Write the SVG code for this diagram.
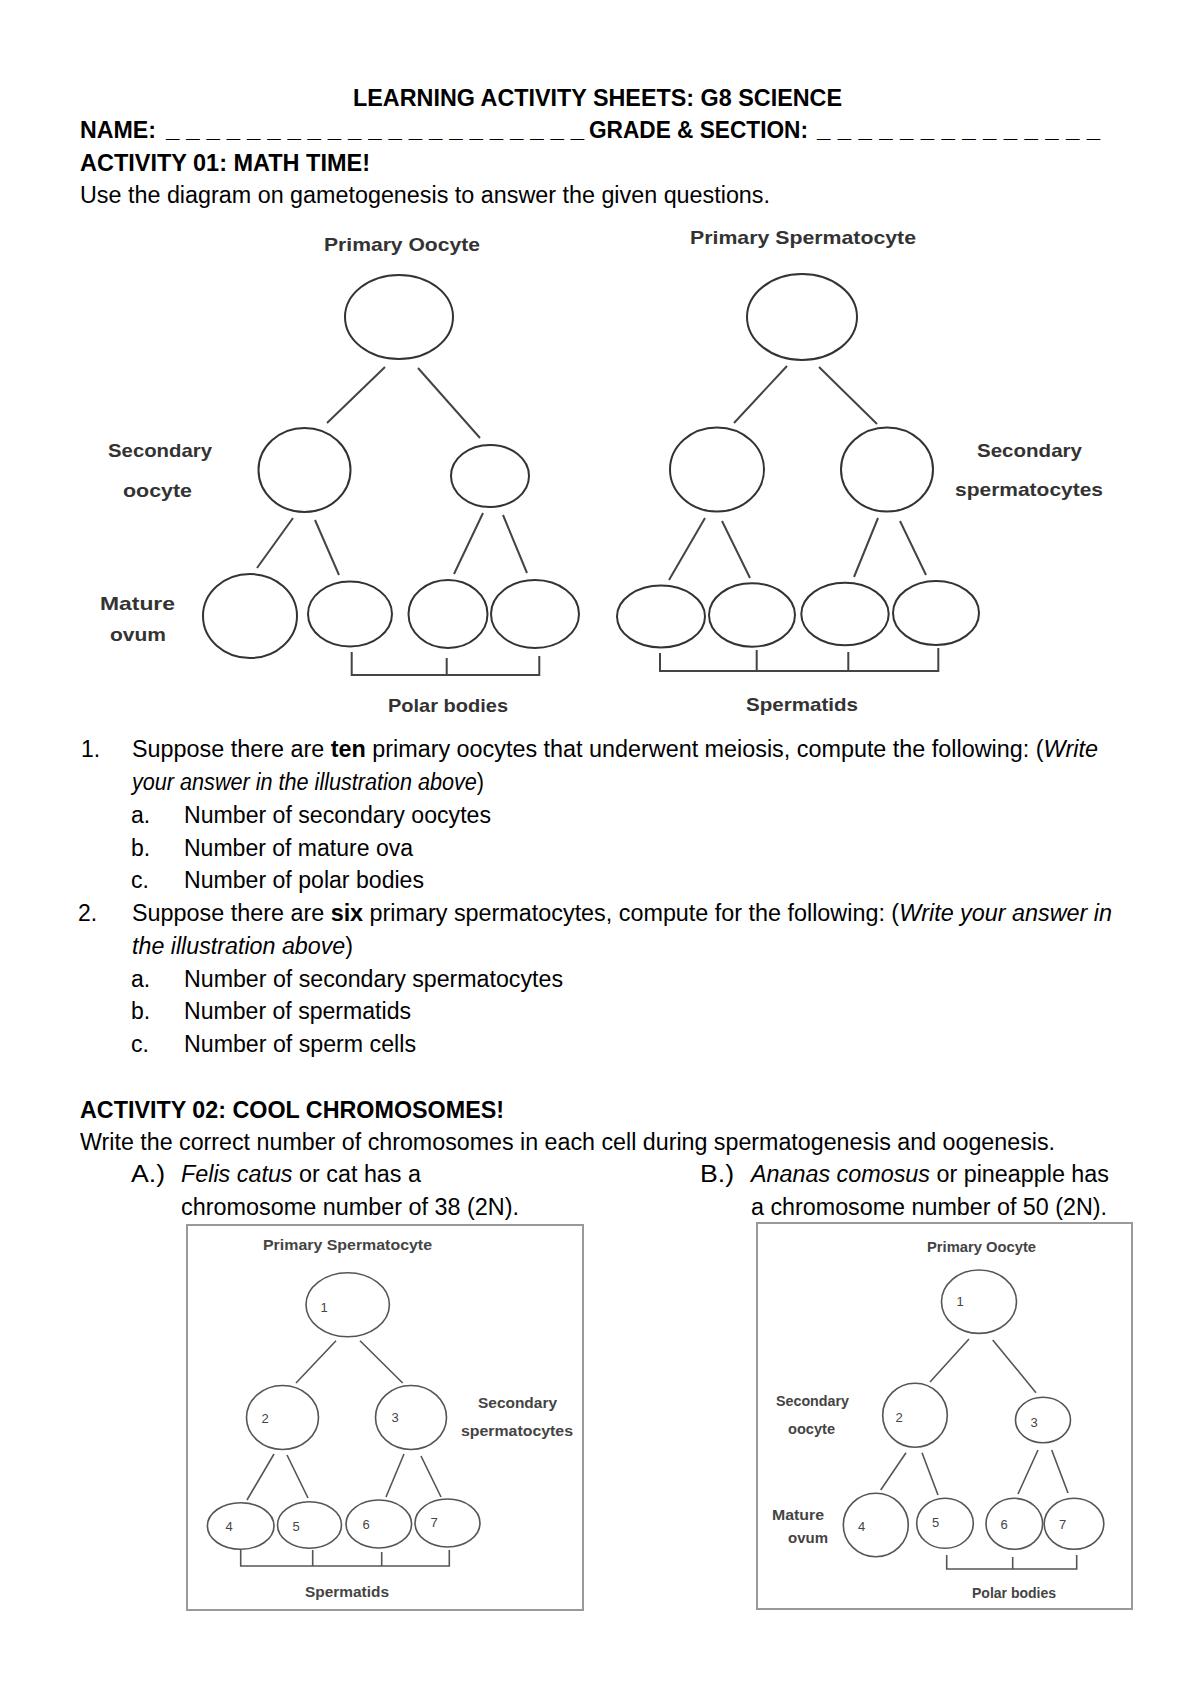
<svg xmlns="http://www.w3.org/2000/svg" width="1200" height="1696" viewBox="0 0 1200 1696">
<style>
.h{font-family:"Liberation Sans",Arial,sans-serif;font-weight:bold;font-size:23px;fill:#000}
.b{font-family:"Liberation Sans",Arial,sans-serif;font-size:23px;fill:#000}
.i{font-style:italic}
.bd{font-weight:bold}
.lbl{font-family:"Liberation Sans",Arial,sans-serif;font-weight:bold;font-size:19px;fill:#333}
.sl{font-family:"Liberation Sans",Arial,sans-serif;font-weight:bold;font-size:14px;fill:#444}
.num{font-family:"Liberation Sans",Arial,sans-serif;font-size:13px;fill:#444;text-anchor:middle}
.cell{fill:none;stroke:#333;stroke-width:2}
.cells{fill:none;stroke:#555;stroke-width:1.6}
.con{fill:none;stroke:#444;stroke-width:2}
.cons{fill:none;stroke:#555;stroke-width:1.6}
.box{fill:none;stroke:#999;stroke-width:2}
.u{font-family:"Liberation Sans",Arial,sans-serif;font-weight:bold;font-size:24px;fill:#000}
</style>
<rect width="1200" height="1696" fill="#fff"/>

<!-- Header -->
<g id="header">
<text class="h" x="353" y="106" textLength="489" lengthAdjust="spacingAndGlyphs">LEARNING ACTIVITY SHEETS: G8 SCIENCE</text>
<text class="h" x="80" y="138" textLength="76" lengthAdjust="spacingAndGlyphs">NAME:</text>
<text class="u" x="166" y="137" textLength="418" lengthAdjust="spacing">_____________________</text>
<text class="h" x="589" y="138" textLength="219" lengthAdjust="spacingAndGlyphs">GRADE &amp; SECTION:</text>
<text class="u" x="817" y="137" textLength="283" lengthAdjust="spacing">______________</text>
<text class="h" x="80" y="171" textLength="290" lengthAdjust="spacingAndGlyphs">ACTIVITY 01: MATH TIME!</text>
<text class="b" x="80" y="203" textLength="690" lengthAdjust="spacingAndGlyphs">Use the diagram on gametogenesis to answer the given questions.</text>
</g>

<!-- Top-left: oogenesis -->
<g id="oogenesis-labels">
<text class="lbl" x="324" y="251" textLength="156" lengthAdjust="spacingAndGlyphs">Primary Oocyte</text>
<text class="lbl" x="108" y="457" textLength="104" lengthAdjust="spacingAndGlyphs">Secondary</text>
<text class="lbl" x="123" y="497" textLength="69" lengthAdjust="spacingAndGlyphs">oocyte</text>
<text class="lbl" x="100" y="610" textLength="75" lengthAdjust="spacingAndGlyphs">Mature</text>
<text class="lbl" x="110" y="641" textLength="56" lengthAdjust="spacingAndGlyphs">ovum</text>
<text class="lbl" x="388" y="712" font-size="18" textLength="120" lengthAdjust="spacingAndGlyphs">Polar bodies</text>
</g>
<g id="oo-primary"><ellipse class="cell" cx="399" cy="317" rx="54" ry="42"/></g>
<g id="oo-secondary-1"><ellipse class="cell" cx="304.5" cy="470" rx="46" ry="42"/></g>
<g id="oo-secondary-2"><ellipse class="cell" cx="490" cy="476" rx="39" ry="31"/></g>
<g id="oo-ovum"><ellipse class="cell" cx="250" cy="616" rx="47" ry="42"/></g>
<g id="oo-polar-1"><ellipse class="cell" cx="350" cy="614" rx="42" ry="32.5"/></g>
<g id="oo-polar-2"><ellipse class="cell" cx="448" cy="614" rx="39.5" ry="34"/></g>
<g id="oo-polar-3"><ellipse class="cell" cx="535" cy="614" rx="44" ry="34"/></g>

<!-- Top-right: spermatogenesis -->
<g id="sp-labels">
<text class="lbl" x="690" y="244" textLength="226" lengthAdjust="spacingAndGlyphs">Primary Spermatocyte</text>
<text class="lbl" x="977" y="457" textLength="105" lengthAdjust="spacingAndGlyphs">Secondary</text>
<text class="lbl" x="955" y="496" textLength="148" lengthAdjust="spacingAndGlyphs">spermatocytes</text>
<text class="lbl" x="746" y="711" font-size="18" textLength="112" lengthAdjust="spacingAndGlyphs">Spermatids</text>
</g>
<g id="sp-primary"><ellipse class="cell" cx="802" cy="317" rx="55" ry="43"/></g>
<g id="sp-secondary-1"><ellipse class="cell" cx="717" cy="469.5" rx="47" ry="42"/></g>
<g id="sp-secondary-2"><ellipse class="cell" cx="887" cy="469.5" rx="46" ry="42"/></g>
<g id="sp-spermatid-1"><ellipse class="cell" cx="661" cy="616.5" rx="44" ry="31"/></g>
<g id="sp-spermatid-2"><ellipse class="cell" cx="752" cy="615" rx="43" ry="31.7"/></g>
<g id="sp-spermatid-3"><ellipse class="cell" cx="845" cy="614" rx="43.7" ry="31.2"/></g>
<g id="sp-spermatid-4"><ellipse class="cell" cx="936" cy="613" rx="43" ry="32"/></g>

<!-- Questions -->
<g id="questions">
<text class="b" x="81" y="757">1.</text>
<text class="b" x="132" y="757" textLength="966" lengthAdjust="spacingAndGlyphs">Suppose there are <tspan class="bd">ten</tspan> primary oocytes that underwent meiosis, compute the following: (<tspan class="i">Write</tspan></text>
<text class="b" x="132" y="790" textLength="352" lengthAdjust="spacingAndGlyphs"><tspan class="i">your answer in the illustration above</tspan>)</text>
<text class="b" x="131" y="823">a.</text>
<text class="b" x="184" y="823" textLength="307" lengthAdjust="spacingAndGlyphs">Number of secondary oocytes</text>
<text class="b" x="131" y="856">b.</text>
<text class="b" x="184" y="856" textLength="229" lengthAdjust="spacingAndGlyphs">Number of mature ova</text>
<text class="b" x="131" y="888">c.</text>
<text class="b" x="184" y="888" textLength="240" lengthAdjust="spacingAndGlyphs">Number of polar bodies</text>
<text class="b" x="78" y="921">2.</text>
<text class="b" x="132" y="921" textLength="980" lengthAdjust="spacingAndGlyphs">Suppose there are <tspan class="bd">six</tspan> primary spermatocytes, compute for the following: (<tspan class="i">Write your answer in</tspan></text>
<text class="b" x="132" y="954" textLength="221" lengthAdjust="spacingAndGlyphs"><tspan class="i">the illustration above</tspan>)</text>
<text class="b" x="131" y="987">a.</text>
<text class="b" x="184" y="987" textLength="379" lengthAdjust="spacingAndGlyphs">Number of secondary spermatocytes</text>
<text class="b" x="131" y="1019">b.</text>
<text class="b" x="184" y="1019" textLength="227" lengthAdjust="spacingAndGlyphs">Number of spermatids</text>
<text class="b" x="131" y="1052">c.</text>
<text class="b" x="184" y="1052" textLength="232" lengthAdjust="spacingAndGlyphs">Number of sperm cells</text>
</g>

<!-- Activity 02 -->
<g id="activity2">
<text class="h" x="80" y="1118" textLength="424" lengthAdjust="spacingAndGlyphs">ACTIVITY 02: COOL CHROMOSOMES!</text>
<text class="b" x="80" y="1150" textLength="975" lengthAdjust="spacingAndGlyphs">Write the correct number of chromosomes in each cell during spermatogenesis and oogenesis.</text>
<text class="b" x="131" y="1182" textLength="34" lengthAdjust="spacingAndGlyphs">A.)</text>
<text class="b" x="181" y="1182" textLength="240" lengthAdjust="spacingAndGlyphs"><tspan class="i">Felis catus</tspan> or cat has a</text>
<text class="b" x="181" y="1215" textLength="338" lengthAdjust="spacingAndGlyphs">chromosome number of 38 (2N).</text>
<text class="b" x="700" y="1182" textLength="34" lengthAdjust="spacingAndGlyphs">B.)</text>
<text class="b" x="751" y="1182" textLength="358" lengthAdjust="spacingAndGlyphs"><tspan class="i">Ananas comosus</tspan> or pineapple has</text>
<text class="b" x="751" y="1215" textLength="356" lengthAdjust="spacingAndGlyphs">a chromosome number of 50 (2N).</text>
</g>

<!-- Box A: cat spermatogenesis -->
<g id="boxA">
<rect class="box" x="187" y="1225" width="396" height="385"/>
<text class="sl" x="263" y="1250" textLength="169" lengthAdjust="spacingAndGlyphs">Primary Spermatocyte</text>
<text class="sl" x="478" y="1408" textLength="79" lengthAdjust="spacingAndGlyphs">Secondary</text>
<text class="sl" x="461" y="1436" textLength="112" lengthAdjust="spacingAndGlyphs">spermatocytes</text>
<text class="sl" x="305" y="1597" textLength="84" lengthAdjust="spacingAndGlyphs">Spermatids</text>
</g>
<g id="A1"><ellipse class="cells" cx="347.7" cy="1304.7" rx="41.7" ry="32"/><text class="num" x="324" y="1312">1</text></g>
<g id="A2"><ellipse class="cells" cx="282.5" cy="1417.5" rx="36" ry="32"/><text class="num" x="265" y="1423">2</text></g>
<g id="A3"><ellipse class="cells" cx="411" cy="1417.5" rx="35.5" ry="32"/><text class="num" x="395" y="1422">3</text></g>
<g id="A4"><ellipse class="cells" cx="240.7" cy="1526" rx="33.3" ry="23.3"/><text class="num" x="229" y="1531">4</text></g>
<g id="A5"><ellipse class="cells" cx="309.5" cy="1525" rx="32" ry="23.3"/><text class="num" x="296" y="1531">5</text></g>
<g id="A6"><ellipse class="cells" cx="378.8" cy="1524" rx="32.8" ry="24"/><text class="num" x="366" y="1529">6</text></g>
<g id="A7"><ellipse class="cells" cx="447.5" cy="1523" rx="32.5" ry="24"/><text class="num" x="434" y="1527">7</text></g>

<!-- Box B: pineapple oogenesis -->
<g id="boxB">
<rect class="box" x="757" y="1223" width="375" height="386"/>
<text class="sl" x="927" y="1252" textLength="109" lengthAdjust="spacingAndGlyphs">Primary Oocyte</text>
<text class="sl" x="776" y="1406" textLength="73" lengthAdjust="spacingAndGlyphs">Secondary</text>
<text class="sl" x="788" y="1434" textLength="47" lengthAdjust="spacingAndGlyphs">oocyte</text>
<text class="sl" x="772" y="1520" textLength="52" lengthAdjust="spacingAndGlyphs">Mature</text>
<text class="sl" x="788" y="1543" textLength="40" lengthAdjust="spacingAndGlyphs">ovum</text>
<text class="sl" x="972" y="1598" textLength="84" lengthAdjust="spacingAndGlyphs">Polar bodies</text>
</g>
<g id="B1"><ellipse class="cells" cx="979" cy="1301.7" rx="37.5" ry="31.7"/><text class="num" x="960" y="1306">1</text></g>
<g id="B2"><ellipse class="cells" cx="915" cy="1415.3" rx="32.3" ry="32"/><text class="num" x="899" y="1422">2</text></g>
<g id="B3"><ellipse class="cells" cx="1043" cy="1420" rx="27.5" ry="22.7"/><text class="num" x="1034" y="1427">3</text></g>
<g id="B4"><ellipse class="cells" cx="875.8" cy="1525" rx="32.5" ry="31.7"/><text class="num" x="861.7" y="1531">4</text></g>
<g id="B5"><ellipse class="cells" cx="945" cy="1523.3" rx="28.3" ry="25"/><text class="num" x="935.7" y="1527">5</text></g>
<g id="B6"><ellipse class="cells" cx="1014.3" cy="1523.8" rx="28.3" ry="25.5"/><text class="num" x="1004" y="1529">6</text></g>
<g id="B7"><ellipse class="cells" cx="1074" cy="1523.8" rx="29.8" ry="25.5"/><text class="num" x="1062.7" y="1529">7</text></g>

<!-- Connectors -->
<g id="connectors">
<path class="con" d="M385,367L327,423M418,368L480,438M293,518L257,568M315,520L339,575M483,513L454,574M503,515L527,573"/>
<path class="con" d="M351.7,652V675H539.3V656M446.7,658V675"/>
<path class="con" d="M787,366L734,423M819,367L877,424M705,518L669,580M722,521L750,578M878,518L854,577M900,521L926,575"/>
<path class="con" d="M660,653V671H938.3V648M756.7,650V671M848.3,652V671"/>
<path class="cons" d="M336,1340.7L296,1383M360,1340.7L402.7,1383M274,1454L247,1500M287,1455L308,1498M404,1454L386,1497M421,1456L441,1497"/>
<path class="cons" d="M240.7,1550V1566H449.3V1550M312.7,1550V1566M381.7,1552V1566"/>
<path class="cons" d="M969,1339L930,1382M992.7,1340L1036,1392.7M906,1452.7L880.7,1490M922,1452.7L938,1495M1038,1450L1018,1494M1051.7,1450L1068,1493"/>
<path class="cons" d="M946.7,1555V1569H1076.7V1555M1012.7,1557V1569"/>
</g>
</svg>
